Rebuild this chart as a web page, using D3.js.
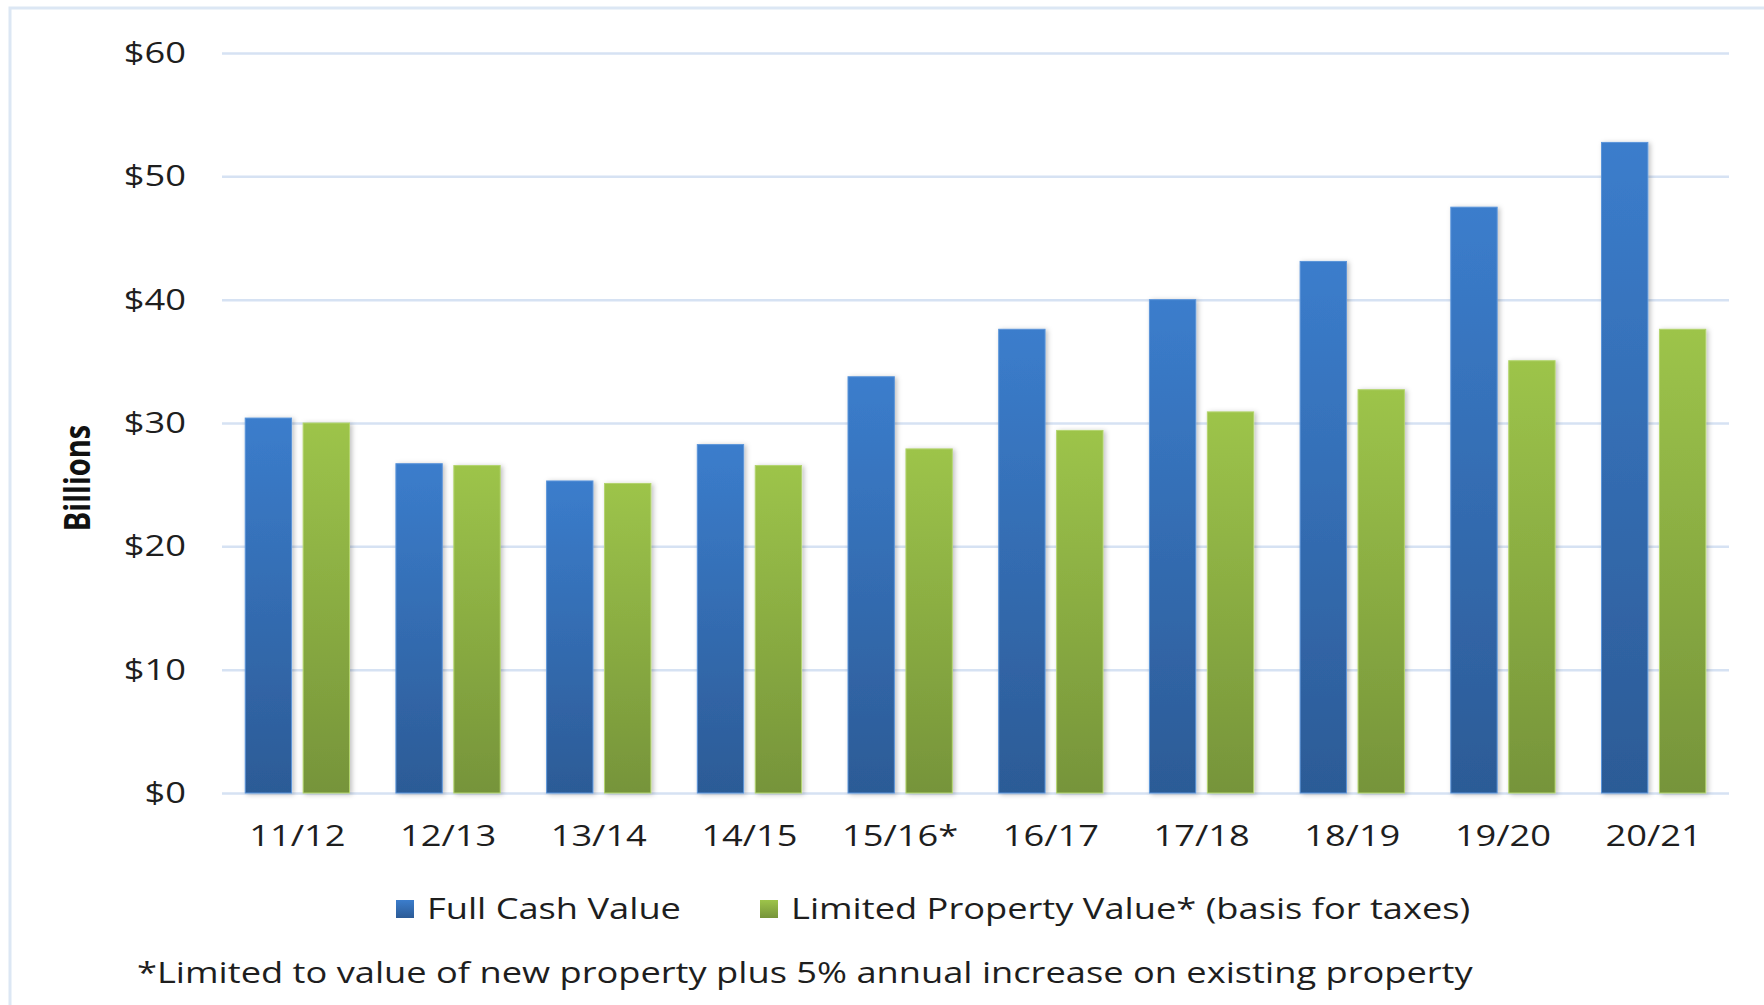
<!DOCTYPE html>
<html>
<head>
<meta charset="utf-8">
<script src="https://cdn.jsdelivr.net/npm/d3@7"></script>
<style>
  body { margin: 0; background: #fff; }
  text { font-family: "Open Sans", sans-serif; fill: #1e1e1e; }
</style>
</head>
<body>
<svg id="svg" width="1764" height="1005"></svg>
<script>
// data
const years = ["11/12", "12/13", "13/14", "14/15", "15/16*", "16/17", "17/18", "18/19", "19/20", "20/21"];
const fullCash = [30.4, 26.7, 25.3, 28.25, 33.75, 37.6, 40.0, 43.1, 47.5, 52.75];
const limitedValue = [30.0, 26.55, 25.1, 26.55, 27.9, 29.4, 30.9, 32.7, 35.05, 37.6];
const yTicks = [0, 10, 20, 30, 40, 50, 60];
const seriesNames = ["Full Cash Value", "Limited Property Value* (basis for taxes)"];
const footnote = "*Limited to value of new property plus 5% annual increase on existing property";

const stretch = 1.25; // the original picture is stretched sideways
const fontSize = 29;

var svg = d3.select("#svg"),
    margin = {top: 53, right: 35, bottom: 212, left: 222},
    width = 1729 - margin.left,
    height = 793 - margin.top;

const defs = svg.append("defs");

// bar gradients, top -> bottom
const grads = [["blue", "#3b7dcc", "#2c5b96"], ["green", "#9dc44a", "#76943a"]];
grads.forEach(g => {
    var lg = defs.append("linearGradient")
        .attr("id", "grad_" + g[0])
        .attr("x1", 0).attr("y1", 0).attr("x2", 0).attr("y2", 1);
    lg.append("stop").attr("offset", 0).attr("stop-color", g[1]);
    lg.append("stop").attr("offset", 1).attr("stop-color", g[2]);
});

defs.append("filter")
    .attr("id", "shadow")
    .attr("x", "-20%").attr("y", "-5%").attr("width", "150%").attr("height", "115%")
    .append("feDropShadow")
    .attr("dx", 2).attr("dy", 1).attr("stdDeviation", 2.5)
    .attr("flood-color", "#000").attr("flood-opacity", 0.25);

// outer frame
svg.append("rect")
    .attr("x", 10).attr("y", 8)
    .attr("width", 1800).attr("height", 1100)
    .style("fill", "none")
    .style("stroke", "#dce7f4")
    .style("stroke-width", 3);

var x = d3.scaleBand().domain(years).range([0, width]);
var x1 = d3.scaleBand().domain([0, 1]).range([x.bandwidth() * 0.154, x.bandwidth() * 0.846]).paddingInner(0.2);
var y = d3.scaleLinear().domain([0, 60]).range([height, 0]);

var g = svg.append("g")
    .attr("transform", "translate(" + margin.left + "," + margin.top + ")");

// gridlines
g.append("g")
    .attr("class", "grid")
    .call(d3.axisLeft(y).tickValues(yTicks).tickSize(-width).tickFormat(""))
    .call(a => a.select(".domain").remove())
    .selectAll("line")
    .style("stroke", "#d6e2f3")
    .style("stroke-width", 2.5);

// y tick labels
g.append("g")
    .selectAll("text")
    .data(yTicks)
    .enter().append("text")
    .attr("transform", d => "translate(-36," + (y(d) + 10) + ") scale(" + stretch + ",1)")
    .style("text-anchor", "end")
    .style("font-size", fontSize + "px")
    .text(d => "$" + d);

// bars
var data = years.map((yr, i) => ({yr: yr, vals: [fullCash[i], limitedValue[i]]}));

var groups = g.selectAll(".grp")
    .data(data)
    .enter().append("g")
    .attr("class", "grp")
    .attr("transform", d => "translate(" + x(d.yr) + ",0)");

groups.selectAll("rect")
    .data(d => d.vals.map((v, k) => ({k: k, v: v})))
    .enter().append("rect")
    .attr("x", d => x1(d.k))
    .attr("width", x1.bandwidth())
    .attr("y", d => y(d.v))
    .attr("height", d => y(0) - y(d.v))
    .attr("filter", "url(#shadow)")
    .style("fill", d => "url(#grad_" + grads[d.k][0] + ")")
    .style("stroke", d => d.k == 0 ? "#5b95da" : "#b3d56e")
    .style("stroke-width", 1);

// x labels
g.append("g")
    .selectAll("text")
    .data(years)
    .enter().append("text")
    .attr("transform", d => "translate(" + (x(d) + x.bandwidth() / 2) + "," + (height + 53) + ") scale(" + stretch + ",1)")
    .style("text-anchor", "middle")
    .style("font-size", fontSize + "px")
    .text(d => d);

// axis title
svg.append("text")
    .attr("transform", "translate(90,478) rotate(-90) scale(1," + stretch + ")")
    .style("text-anchor", "middle")
    .style("font-size", fontSize + "px")
    .style("font-weight", "bold")
    .style("fill", "#111")
    .text("Billions");

// legend
var legX = [396, 760];
var leg = svg.append("g").selectAll("g")
    .data(seriesNames)
    .enter().append("g")
    .attr("transform", (d, i) => "translate(" + legX[i] + ",900)");

leg.append("rect")
    .attr("width", 18).attr("height", 18)
    .style("fill", (d, i) => "url(#grad_" + grads[i][0] + ")");

leg.append("text")
    .attr("transform", "translate(31,19) scale(" + stretch + ",1)")
    .style("font-size", fontSize + "px")
    .text(d => d);

// footnote
svg.append("text")
    .attr("transform", "translate(137,983) scale(" + stretch + ",1)")
    .style("font-size", fontSize + "px")
    .text(footnote);
</script>
</body>
</html>
